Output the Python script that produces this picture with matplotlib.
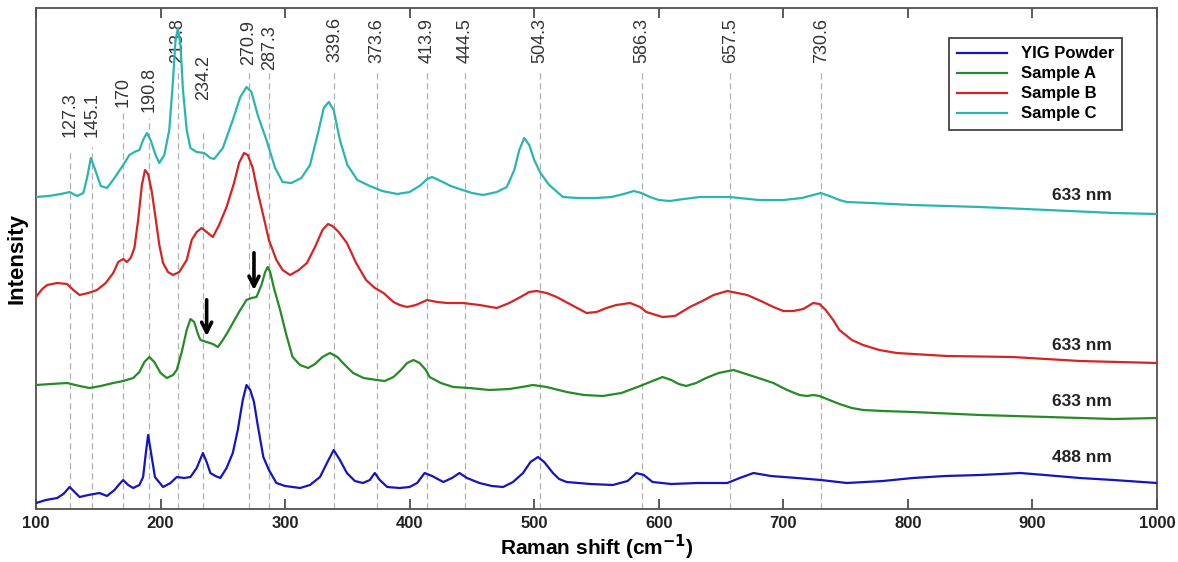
import matplotlib
matplotlib.use("Agg")
import matplotlib.pyplot as plt

plt.rcParams["font.family"] = ["Liberation Sans", "DejaVu Sans"]

# Sample C (633 nm)
c_x = [100, 110, 120, 127, 133, 138, 141, 144, 147, 152, 157, 163, 170, 175, 179, 183, 186, 189, 192, 196,
       199, 203, 207, 210, 212, 214, 216, 218, 221, 224, 229, 235, 240, 243, 250, 258, 264, 269, 273, 278,
       285, 292, 298, 305, 313, 320, 327, 331, 335, 339, 344, 350, 358, 368, 378, 390, 400, 409, 414, 418,
       425, 433, 440, 450, 459, 470, 478, 484, 488, 492, 496, 500, 505, 512, 523, 535, 550, 562, 572, 580,
       586, 593, 600, 609, 620, 633, 657, 680, 700, 715, 724, 730, 737, 745, 751, 770, 804, 858, 912, 965, 1000]
c_y = [312, 313, 315, 317, 313, 316, 331, 351, 341, 323, 321, 331, 344, 354, 357, 359, 369, 376, 369, 354,
       346, 354, 379, 429, 469, 481, 464, 419, 379, 361, 357, 356, 351, 350, 361, 389, 412, 422, 417, 394,
       369, 341, 327, 326, 331, 344, 379, 401, 407, 399, 369, 344, 329, 323, 318, 315, 317, 324, 330, 332,
       328, 323, 320, 316, 314, 317, 322, 339, 359, 371, 364, 349, 336, 324, 312, 311, 311, 312, 315, 318,
       316, 312, 309, 308, 310, 312, 312, 309, 309, 311, 314, 316, 313, 309, 307, 306, 304, 302, 299, 296, 295]

# Sample B (633 nm)
b_x = [100, 105, 109, 117, 125, 130, 135, 142, 149, 156, 162, 166, 170, 173, 176, 179, 182, 185, 187.5, 190,
       193, 196, 199, 202, 206, 210, 215, 221, 225, 229, 233, 237, 242, 247, 253, 259, 263, 267, 270, 274,
       278, 282, 287, 293, 298, 304, 311, 317.5, 324, 330, 334.5, 338, 343, 349.6, 357, 365, 372, 379, 387, 392,
       398, 405, 414, 422, 430, 443, 456, 470, 480, 489, 496, 502, 510, 518, 530, 542, 550, 558, 566, 577,
       585, 590, 603, 613, 625, 635, 644, 655, 663, 671, 682, 692, 700, 708, 716, 724, 729, 734, 740, 745,
       755, 764, 777, 791, 831, 884, 938, 1000]
b_y = [212, 220, 224, 226, 225, 219, 214, 216, 219, 226, 236, 247, 250, 247, 251, 261, 289, 324, 339, 335,
       317, 291, 264, 246, 237, 234, 237, 249, 269, 277, 281, 277, 272, 284, 302, 326, 346, 356, 354, 341,
       317, 296, 269, 249, 239, 234, 239, 246, 262, 279, 285, 283, 277, 266, 246, 229, 221, 216, 207, 204,
       202, 204, 209, 207, 206, 206, 204, 201, 206, 212, 217, 218, 216, 212, 204, 196, 197, 201, 204, 206,
       202, 197, 192, 193, 202, 208, 214, 218, 216, 214, 208, 202, 198, 198, 200, 206, 205, 199, 189, 179,
       169, 164, 159, 156, 153, 152, 148, 146]

# Sample A (633 nm)
a_x = [100, 112, 125, 135, 143, 152, 162, 170, 178, 183, 187, 191, 195, 200, 205, 210, 213, 217, 221, 224,
       227, 230, 232, 237, 242, 246, 250, 254, 258, 263, 269, 273, 277, 281, 284, 286, 288, 291, 296, 301,
       306, 312, 318.5, 324, 330, 336, 342, 348, 354.6, 363, 373.6, 380, 387, 393, 398, 403, 408, 413, 416, 425,
       435, 448, 464, 480, 490, 499, 510, 526, 540, 555, 570, 585, 595, 603, 610, 616, 622, 630, 638, 648,
       660, 670, 680, 692, 703, 713, 719, 724, 729, 735, 745, 755, 764, 780, 804, 858, 912, 965, 1000]
a_y = [124, 125, 126, 123, 121, 123, 126, 128, 131, 137, 147, 152, 147, 136, 131, 134, 139, 157, 179, 190,
       187, 175, 169, 167, 165, 162, 169, 177, 186, 197, 209, 211, 212, 224, 237, 242, 237, 221, 199, 174,
       152, 144, 141, 145, 152, 156, 152, 144, 136, 131, 129, 128, 132, 139, 146, 149, 146, 139, 132, 126,
       122, 121, 119, 120, 122, 124, 122, 117, 114, 113, 116, 123, 128, 132, 129, 125, 123, 126, 131, 136,
       139, 135, 131, 126, 119, 114, 113, 114, 113, 110, 105, 101, 99, 98, 97, 94, 92, 90, 91]

# YIG powder (488 nm)
p_x = [100, 108, 117, 122, 127, 131, 135, 142, 151, 157, 163, 167, 170, 174, 178, 183, 186, 188, 190, 192,
       195.5, 202, 208, 213, 219, 224, 229, 234, 237, 240, 244, 248, 253, 258, 262, 266, 269, 272, 275, 278,
       282.5, 287, 293, 300, 312, 320, 328, 334, 339, 344, 349.6, 356, 362.5, 368, 372, 376, 382, 392, 400, 406,
       412, 418, 427, 434, 440, 446, 456, 466, 475, 483, 491, 497, 503, 508, 515, 520, 526, 545, 563, 575,
       582, 588, 595, 610, 631, 655, 665, 676, 690, 711, 730, 751, 780, 804, 830, 858, 875, 890, 910, 938,
       965, 1000]
p_y = [6, 9, 11, 15, 22, 17, 12, 14, 16, 13, 19, 25, 29, 24, 21, 24, 32, 54, 74, 59,
       32, 22, 26, 32, 31, 32, 41, 56, 47, 36, 33, 31, 41, 56, 79, 109, 124, 119, 107, 84,
       52, 39, 26, 23, 21, 24, 32, 47, 59, 49, 36, 28, 26, 29, 36, 29, 22, 21, 22, 26,
       36, 33, 27, 31, 36, 31, 26, 23, 22, 27, 36, 47, 52, 47, 36, 30, 27, 25, 24, 28,
       36, 34, 27, 25, 26, 26, 31, 36, 33, 31, 29, 26, 28, 31, 33, 34, 35, 36, 34, 31,
       29, 26]

peaks = [127.3, 145.1, 170, 190.8, 213.8, 234.2, 270.9, 287.3, 339.6, 373.6,
         413.9, 444.5, 504.3, 586.3, 657.5, 730.6]
peak_labels = ["127.3", "145.1", "170", "190.8", "213.8", "234.2", "270.9", "287.3", "339.6", "373.6",
               "413.9", "444.5", "504.3", "586.3", "657.5", "730.6"]
label_base = [372, 372, 402, 397, 446, 409, 444, 439, 447, 446, 446, 446, 446, 446, 446, 446]
line_top = [359, 362, 396, 391, 441, 379, 437, 436, 437, 436, 437, 437, 437, 437, 437, 437]

BLUE = "#1515c0"
GREEN = "#268a26"
RED = "#d42424"
CYAN = "#2bb5b0"
INK = "#222222"

fig = plt.figure(figsize=(11.78, 5.62), dpi=100)
ax = fig.add_axes([36 / 1178, 53 / 562, 1121 / 1178, 501 / 562])

# peak guide lines and labels
for pos, lab, base, top in zip(peaks, peak_labels, label_base, line_top):
    ax.plot([pos, pos], [0, top], color="#b0b0b0", lw=0.9, ls=(0, (5, 3)), zorder=1)
    ax.text(pos, base, lab, rotation=90, ha="center", va="bottom", fontsize=13, color="#333333", zorder=1)

ax.plot(p_x, p_y, color=BLUE, lw=1.6, label="YIG Powder", zorder=3)
ax.plot(a_x, a_y, color=GREEN, lw=1.6, label="Sample A", zorder=3)
ax.plot(b_x, b_y, color=RED, lw=1.6, label="Sample B", zorder=3)
ax.plot(c_x, c_y, color=CYAN, lw=1.6, label="Sample C", zorder=3)

# arrows marking the shoulders of sample A
for ax_x, y0, y1 in [(237, 212, 170), (275, 259, 216)]:
    ax.annotate("", xy=(ax_x, y1), xytext=(ax_x, y0),
                arrowprops=dict(arrowstyle="->", lw=2.6, color="black", mutation_scale=18))

# laser wavelength tags
for ty, txt in [(314, "633 nm"), (164, "633 nm"), (107, "633 nm"), (52, "488 nm")]:
    ax.text(940, ty, txt, ha="center", va="center", fontsize=12.5, fontweight="bold", color=INK)

ax.set_xlim(100, 1000)
ax.set_ylim(0, 501)
ax.set_xticks(range(100, 1001, 100))
ax.set_yticks([])
ax.tick_params(axis="x", direction="in", length=7, width=1.2, top=True, pad=5,
               labelsize=12, colors="#404040", labelcolor=INK)
for lab in ax.get_xticklabels():
    lab.set_fontweight("bold")
for sp in ax.spines.values():
    sp.set_color("#505050")
    sp.set_linewidth(1.3)

ax.set_xlabel("Raman shift (cm$^{\\mathbf{-1}}$)", fontsize=15, fontweight="bold", labelpad=1)
ax.set_ylabel("Intensity", fontsize=16, fontweight="bold", labelpad=6)

leg = ax.legend(loc="upper right", bbox_to_anchor=(0.969, 0.940), borderaxespad=0, fancybox=False,
                framealpha=1, edgecolor="#333333", handlelength=3.0, labelspacing=0.3,
                borderpad=0.5, handletextpad=0.8, prop={"weight": "bold", "size": 12})
leg.get_frame().set_linewidth(1.2)

fig.savefig("out.png", dpi=100, facecolor="white")
